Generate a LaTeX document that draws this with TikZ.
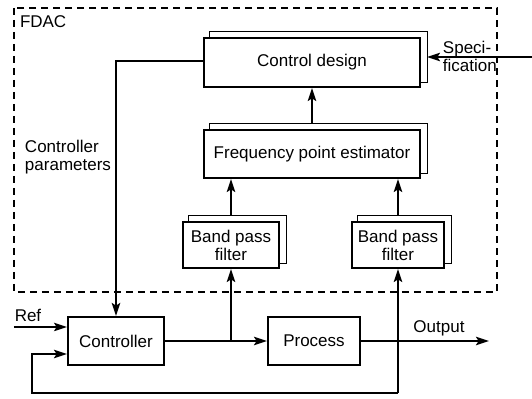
\documentclass[tikz,border=0pt]{standalone}
\usepackage{fontspec}
\setmainfont{Liberation Sans}
\usetikzlibrary{arrows.meta,backgrounds}

\begin{document}
\begin{tikzpicture}[x=0.5pt,y=-0.5pt,
  font=\fontsize{8.5}{9}\selectfont,
  line width=1pt,
  blk/.style={draw, fill=white, inner sep=1pt, align=center},
  arr/.style={-{Stealth[length=6.5pt,width=4.2pt,inset=1.3pt]}},
  frame/.style={dash pattern=on 3.6pt off 2.4pt, line width=1pt}
]
\useasboundingbox (0,0) rectangle (532,399);

% FDAC boundary
\draw[frame] (14,8) rectangle (497,292);
\node[anchor=west, inner sep=0pt] (fdac) at (19,22) {FDAC};

% blocks (front sheets)
\node[blk, minimum width=108pt, minimum height=24.5pt] (cd)   at (312,62.5) {Control design};
\node[blk, minimum width=108pt, minimum height=24pt]   (fpe)  at (312,154)  {Frequency point estimator};
\node[blk, minimum width=48pt, minimum height=23pt]    (bpf1) at (231,245) {Band pass\\filter};
\node[blk, minimum width=46pt, minimum height=23pt]    (bpf2) at (398,245) {Band pass\\filter};
\node[blk, minimum width=48pt, minimum height=24pt]    (ctrl) at (116,341) {Controller};
\node[blk, minimum width=46pt, minimum height=24pt]    (proc) at (314,341) {Process};

% back sheets of the stacked blocks
\begin{scope}[on background layer]
  \foreach \b in {cd,fpe,bpf1,bpf2}{
    \draw[fill=white] ([shift={(3pt,3pt)}]\b.south west) rectangle ([shift={(3pt,3pt)}]\b.north east);
  }
\end{scope}

% estimator chain
\draw[arr] ([yshift=3pt]fpe.north) -- (cd.south);
\draw[arr] ([yshift=3pt]bpf1.north) -- (bpf1.north |- fpe.south);
\draw[arr] ([yshift=3pt]bpf2.north) -- (bpf2.north |- fpe.south);

% controller parameters
\coordinate (cdl) at (204,61);
\draw[arr] (cdl) -- (ctrl.north |- cdl) -- (ctrl.north);
\node[anchor=west, align=left, inner sep=0pt] (cpar) at (24,157) {Controller\\parameters};

% specification input
\coordinate (cdr) at ([xshift=3pt]cd.east);
\coordinate (specin) at (532,57);
\draw[arr] (specin) -- (cdr |- specin);
\node[anchor=west, align=left, inner sep=0pt] (spec) at (442,56) {Speci-\\fication};

% main loop
\coordinate (refin) at (14,327);
\draw[arr, line width=0.7pt] (refin) -- (ctrl.west |- refin);
\node[inner sep=0pt] (ref) at (28,315) {Ref};

\draw[arr] (ctrl.east) -- (proc.west);
\coordinate (tap) at (bpf1.south |- ctrl.east);
\draw[arr] (tap) -- (bpf1.south);

\coordinate (out) at (489,341);
\draw[arr] (proc.east) -- (out);
\node[inner sep=0pt] (outlbl) at (439,328) {Output};

% feedback path
\coordinate (fb) at (398,393);
\coordinate (fbl) at (32,393);
\coordinate (fbu) at (32,354);
\draw[arr] (fb) -- (fb |- bpf2.south);
\draw[arr] (fb) -- (fbl) -- (fbu) -- (ctrl.west |- fbu);
\end{tikzpicture}
\end{document}
